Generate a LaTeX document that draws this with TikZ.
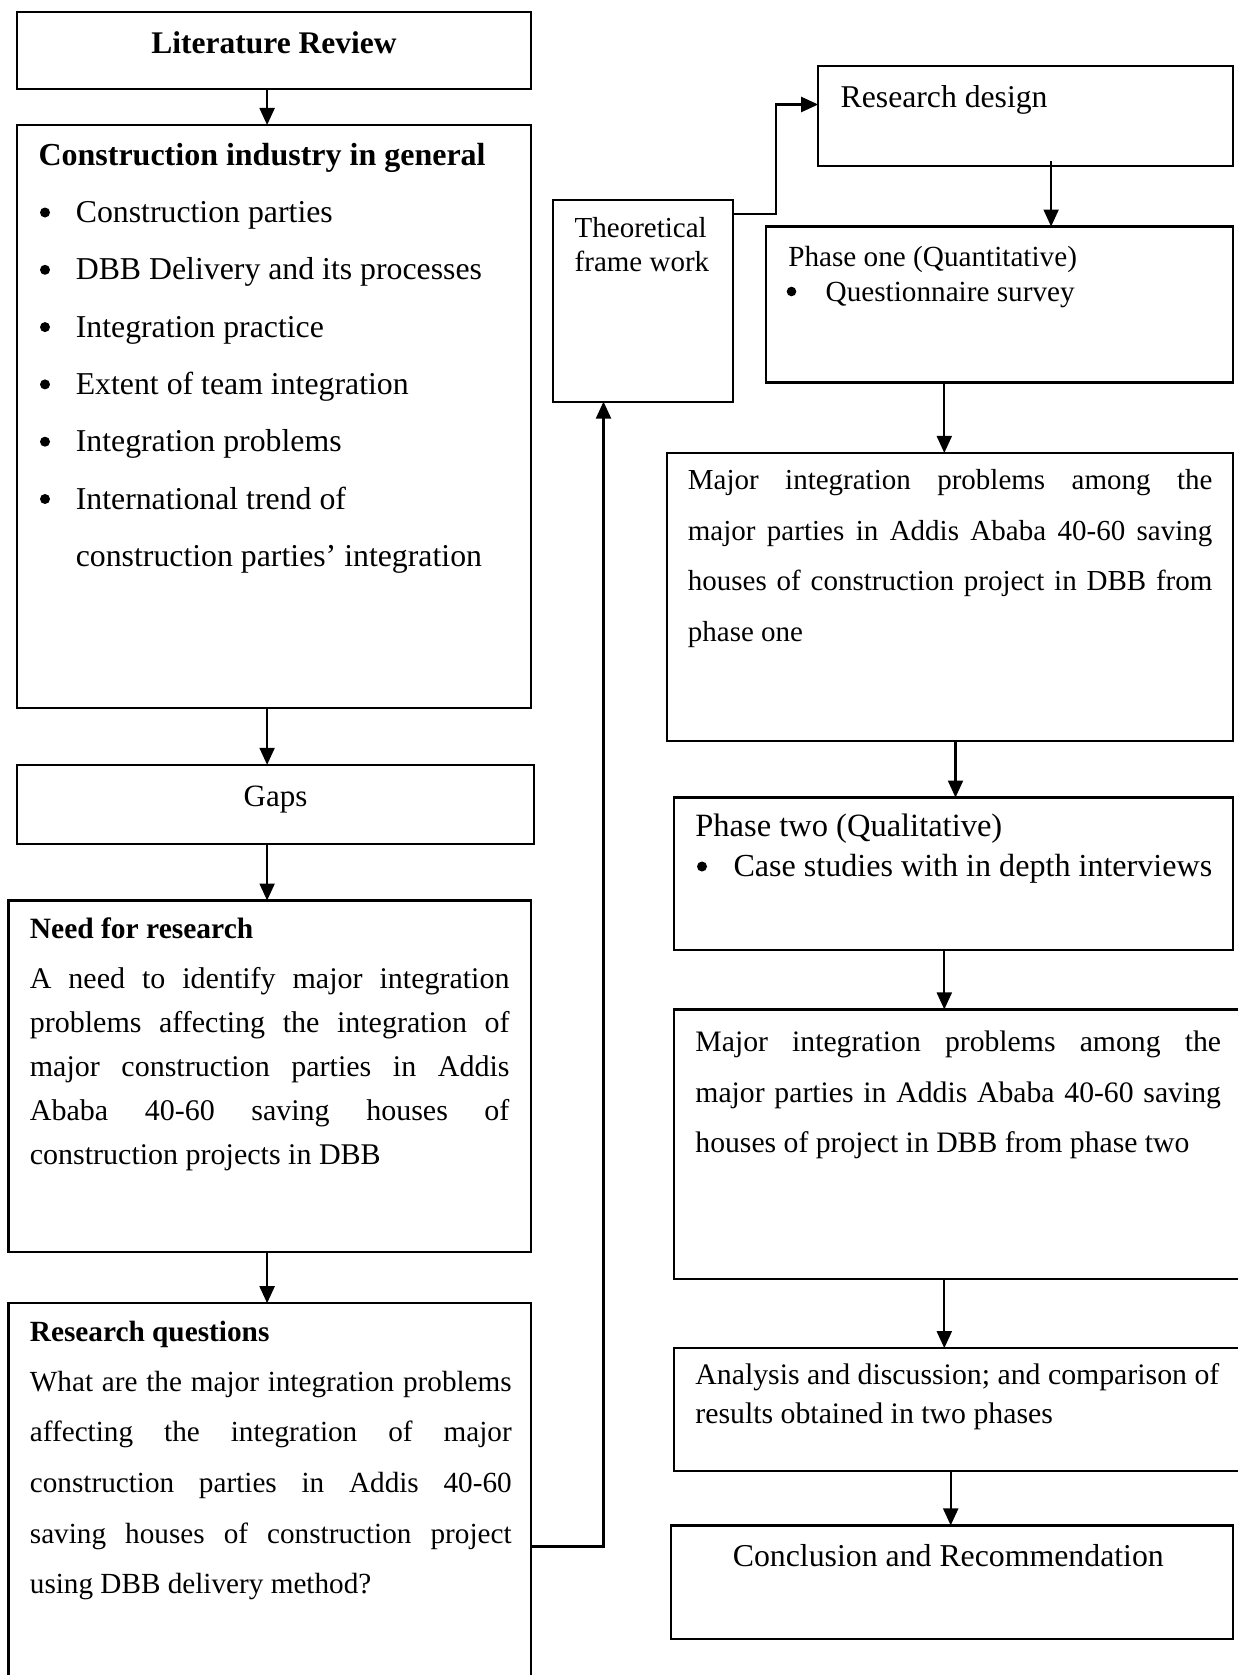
\documentclass[tikz,border=0pt]{standalone}
\usepackage{fontspec}
\setmainfont{Liberation Serif}
\usetikzlibrary{arrows.meta}
\newcommand\boxlines[2]{\vtop{\baselineskip=#1\relax\lineskiplimit=-\maxdimen #2}}
\begin{document}
\begin{tikzpicture}[x=1pt,y=-1pt,
  box/.style={draw, line width=2.2pt, inner sep=0pt, outer sep=0pt, anchor=north west},
  txt/.style={anchor=base west, inner sep=0pt, outer sep=0pt},
  dotmark/.style={fill=black},
  arr/.style={line width=2.2pt, -{Triangle[length=17pt,width=15pt]}}]
\useasboundingbox (0,0) rectangle (1237,1675);
% ---------- boxes ----------
\node[box, minimum width=513.8pt, minimum height=76.95pt] (lr)   at (17.1,11.75) {};
\node[box, minimum width=513.8pt, minimum height=583.2pt] (ci)   at (17.1,125) {};
\node[box, minimum width=517pt,   minimum height=79.1pt]  (gaps) at (17.1,764.8) {};
\node[box, minimum width=522.4pt, minimum height=351.4pt] (need) at (8.5,900.5) {};
\node[box, minimum width=522.4pt, minimum height=396.8pt] (rq)   at (8.5,1303.2) {};
\node[box, minimum width=179.5pt, minimum height=201.8pt] (tf)   at (553.3,199.8) {};
\node[box, minimum width=414.5pt, minimum height=99.4pt]  (rd)   at (818.2,66.2) {};
\node[box, minimum width=466.8pt, minimum height=155.9pt] (p1)   at (765.9,226.5) {};
\node[box, minimum width=566.1pt, minimum height=288.4pt] (m1)   at (666.6,452.9) {};
\node[box, minimum width=558.7pt, minimum height=152.5pt] (p2)   at (674,797.5) {};
\node[box, minimum width=586pt,   minimum height=269.2pt] (m2)   at (674,1009.4) {};
\node[box, minimum width=586pt,   minimum height=122.8pt] (an)   at (674,1348.1) {};
\node[box, minimum width=561.9pt, minimum height=113.2pt] (con)  at (670.8,1525.4) {};
% ---------- texts ----------
\node[txt, anchor=base, font=\fontsize{31.5}{31.5}\selectfont\bfseries] (lrt) at (274,53.5) {Literature Review};
\node[txt, font=\fontsize{32}{32}\selectfont\bfseries] (cih) at (38.5,165.2) {Construction industry in general};
\node[txt, font=\fontsize{31.8}{31.8}\selectfont] (cib) at (75.8,222.5) {\boxlines{57.3pt}{%
  \hbox{Construction parties}
  \hbox{DBB Delivery and its processes}
  \hbox{Integration practice}
  \hbox{Extent of team integration}
  \hbox{Integration problems}
  \hbox{International trend of}
  \hbox{construction parties’ integration}}};
\foreach \k in {0,...,5} \fill[dotmark] (45,212.5+57.3*\k) circle[radius=5pt];
\node[txt, anchor=base, font=\fontsize{31}{31}\selectfont] (gt) at (275.6,806) {Gaps};
\node[txt, font=\fontsize{29.5}{29.5}\selectfont\bfseries] (nh) at (29.9,938.6) {Need for research};
\node[txt, font=\fontsize{30}{30}\selectfont] (nb) at (29.9,988.4) {\boxlines{43.9pt}{%
  \hbox to 479.6pt{A need to identify major integration}
  \hbox to 479.6pt{problems affecting the integration of}
  \hbox to 479.6pt{major construction parties in Addis}
  \hbox to 479.6pt{Ababa 40-60 saving houses of}
  \hbox{construction projects in DBB}}};
\node[txt, font=\fontsize{29.3}{29.3}\selectfont\bfseries] (rqh) at (29.9,1341) {Research questions};
\node[txt, font=\fontsize{29.2}{29.2}\selectfont] (rqb) at (29.9,1391) {\boxlines{50.7pt}{%
  \hbox to 481.8pt{What are the major integration problems}
  \hbox to 481.8pt{affecting the integration of major}
  \hbox to 481.8pt{construction parties in Addis 40-60}
  \hbox to 481.8pt{saving houses of construction project}
  \hbox{using DBB delivery method?}}};
\node[txt, font=\fontsize{29}{29}\selectfont] (tft) at (574.7,237) {\boxlines{34.2pt}{%
  \hbox{Theoretical}
  \hbox{frame work}}};
\node[txt, font=\fontsize{31.7}{31.7}\selectfont] (rdt) at (840.7,108) {Research design};
\node[txt, font=\fontsize{29.2}{29.2}\selectfont] (p1t) at (788.3,266) {\boxlines{35pt}{%
  \hbox{Phase one (Quantitative)}
  \hbox{\kern37.4pt Questionnaire survey}}};
\fill[dotmark] (791.5,291.5) circle[radius=4.8pt];
\node[txt, font=\fontsize{29}{29}\selectfont] (m1t) at (687.9,489.3) {\boxlines{50.7pt}{%
  \hbox to 524.5pt{Major integration problems among the}
  \hbox to 524.5pt{major parties in Addis Ababa 40-60 saving}
  \hbox to 524.5pt{houses of construction project in DBB from}
  \hbox{phase one}}};
\node[txt, font=\fontsize{32.5}{32.5}\selectfont] (p2t) at (695.4,836.5) {Phase two (Qualitative)};
\node[txt, font=\fontsize{32.1}{32.1}\selectfont] (p2b) at (733.5,876.5) {Case studies with in depth interviews};
\fill[dotmark] (702,866.5) circle[radius=5pt];
\node[txt, font=\fontsize{29.7}{29.7}\selectfont] (m2t) at (695.4,1051.5) {\boxlines{50.7pt}{%
  \hbox to 525.6pt{Major integration problems among the}
  \hbox to 525.6pt{major parties in Addis Ababa 40-60 saving}
  \hbox{houses of project in DBB from phase two}}};
\node[txt, font=\fontsize{29.8}{29.8}\selectfont] (ant) at (695.4,1384.5) {\boxlines{38.5pt}{%
  \hbox{Analysis and discussion; and comparison of}
  \hbox{results obtained in two phases}}};
\node[txt, font=\fontsize{31.8}{31.8}\selectfont] (cont) at (732.8,1566) {Conclusion and Recommendation};
% ---------- connectors ----------
\coordinate (xL) at (267.1,0);
\draw[arr] (lr.south -| xL) -- (ci.north -| xL);
\draw[arr] (ci.south -| xL) -- (gaps.north -| xL);
\draw[arr] (gaps.south -| xL) -- (need.north -| xL);
\draw[arr] (need.south -| xL) -- (rq.north -| xL);
\coordinate (yRQ) at (0,1546.5);
\coordinate (xV) at (603.5,0);
\draw[arr] (rq.east |- yRQ) -| (tf.south -| xV);
\coordinate (yTF) at (0,213.6);
\coordinate (xT) at (775.6,0);
\coordinate (yRD) at (0,104.5);
\draw[arr] (tf.east |- yTF) -| (xT |- yRD) -- (rd.west |- yRD);
\coordinate (rdStart) at (1051.1,161);
\draw[arr] (rdStart) -- (p1.north -| rdStart);
\coordinate (xA) at (944.3,0);
\coordinate (xB) at (955.5,0);
\coordinate (xC) at (950.7,0);
\draw[arr] (p1.south -| xA) -- (m1.north -| xA);
\draw[arr] (m1.south -| xB) -- (p2.north -| xB);
\draw[arr] (p2.south -| xA) -- (m2.north -| xA);
\draw[arr] (m2.south -| xA) -- (an.north -| xA);
\draw[arr] (an.south -| xC) -- (con.north -| xC);
\end{tikzpicture}
\end{document}
